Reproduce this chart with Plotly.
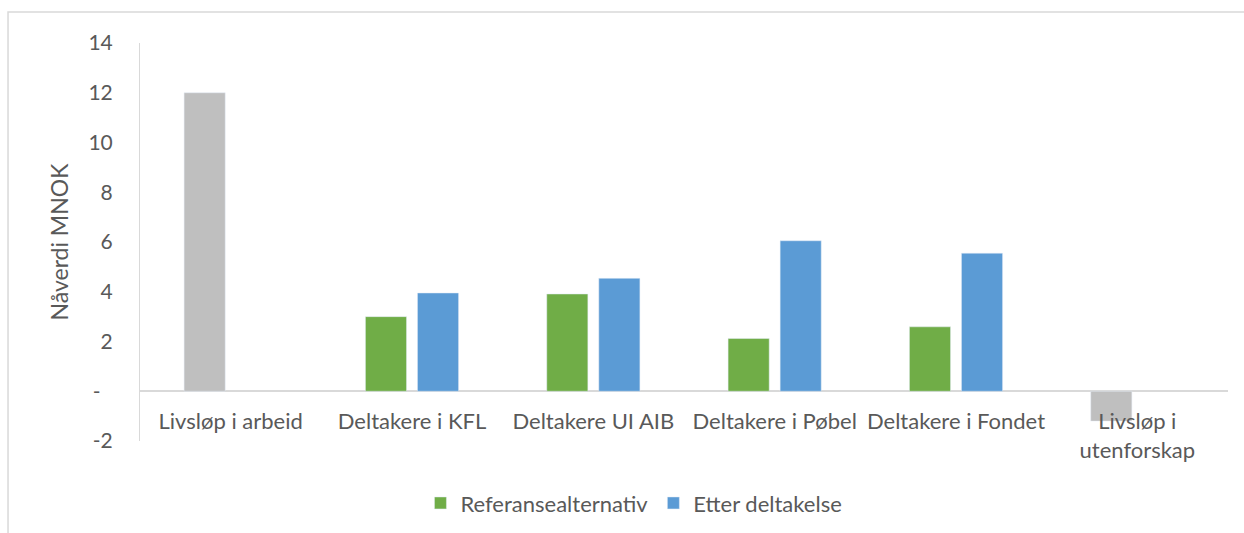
import plotly.graph_objects as go

categories = ["Livsløp i arbeid", "Deltakere i KFL", "Deltakere UI AIB",
              "Deltakere i Pøbel", "Deltakere i Fondet", "Livsløp i<br>utenforskap"]
livslop = [12.0, None, None, None, None, -1.2]
referanse = [None, 3.0, 3.91, 2.12, 2.59, None]
etter = [None, 3.95, 4.54, 6.05, 5.55, None]
y_tickvals = [-2, 0, 2, 4, 6, 8, 10, 12, 14]
y_ticktext = ["-2", "-\u2007", "2", "4", "6", "8", "10", "12", "14"]

FONT = "Lato"
TXT = "#595959"
LINE = "#d9d9d9"

fig = go.Figure()
fig.add_trace(go.Bar(x=categories, y=livslop, name="Livsløp", marker_color="#bfbfbf",
                     offsetgroup="a", showlegend=False))
fig.add_trace(go.Bar(x=categories, y=referanse, name="Referansealternativ",
                     marker_color="#70ad47", offsetgroup="a"))
fig.add_trace(go.Bar(x=categories, y=etter, name="Etter deltakelse",
                     marker_color="#5b9bd5", offsetgroup="b"))

fig.update_layout(
    width=1244, height=533,
    margin=dict(l=140, r=16, t=43, b=92, autoexpand=False),
    paper_bgcolor="white", plot_bgcolor="white",
    barmode="group", bargap=0.426, bargroupgap=0.21,
    font=dict(family=FONT, color=TXT, size=22),
    legend=dict(orientation="h", x=0.454, xanchor="center",
                yref="container", y=0.056, yanchor="middle",
                font=dict(size=22, color=TXT), itemwidth=30),
    xaxis=dict(anchor="free", position=0.125, showline=False, ticks="",
               showgrid=False, automargin=False, ticklabelstandoff=15,
               tickfont=dict(size=22, color=TXT)),
    yaxis=dict(range=[-2, 14], tickvals=y_tickvals, ticktext=y_ticktext,
               showgrid=False, showline=True, linecolor=LINE, linewidth=1,
               zeroline=True, zerolinecolor=LINE, zerolinewidth=2,
               ticks="", ticklabelstandoff=22, automargin=False,
               tickfont=dict(size=21, color=TXT),
               title=dict(text="Nåverdi MNOK", font=dict(size=23, color=TXT), standoff=13)),
    shapes=[dict(type="rect", xref="paper", yref="paper", x0=-0.1213, x1=1.03,
                 y0=-0.35, y1=1.078, line=dict(color=LINE, width=1.5), layer="below")],
)

fig.write_html("out.html", config={"displayModeBar": False},
               post_script="document.body.style.margin='0';")
